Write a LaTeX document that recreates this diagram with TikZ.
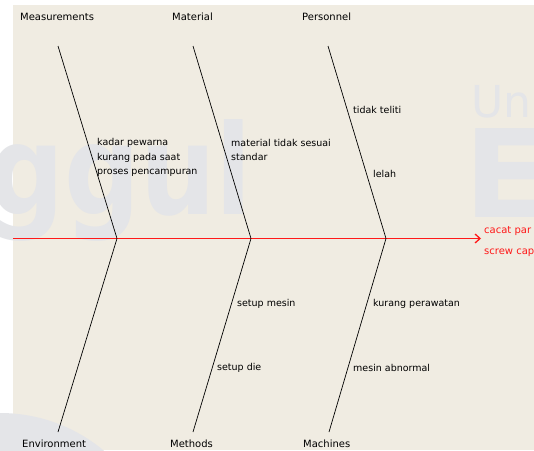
\documentclass[tikz,border=0pt]{standalone}
\usepackage{fontspec}
\setmainfont{DejaVu Sans}
\usepackage{tikz}
\usetikzlibrary{arrows.meta}
\definecolor{latar}{RGB}{240,236,226}
\definecolor{bayang}{RGB}{228,229,232}
\definecolor{merah}{RGB}{255,25,25}
\tikzstyle{kategori} = [inner sep=0pt, anchor=west, font=\fontsize{10}{12}\selectfont]
\tikzstyle{sebab} = [inner sep=0pt, anchor=west, align=left, font=\fontsize{9.5}{14.5}\selectfont]
\tikzstyle{akibat} = [inner sep=0pt, anchor=west, align=left, text=merah, font=\fontsize{10}{21}\selectfont]
\tikzstyle{tulang} = [line width=0.7pt, black]
\tikzstyle{spina} = [line width=1.3pt, merah, -{Straight Barb[length=5pt,width=9pt]}]
\tikzstyle{tanda} = [inner sep=0pt, anchor=base west, text=bayang, font=\bfseries]

\begin{document}
\begin{tikzpicture}[x=1pt,y=-1pt]
							\useasboundingbox (0,0) rectangle (534,450);
							\clip (0,0) rectangle (534,450);
							\fill[latar] (13,5) rectangle (534,450);
							% watermark
							\fill[bayang] (0,575) circle (162pt);
							\node[tanda, xscale=0.85, font=\fontsize{125}{125}\bfseries] (wm1) at (-12,214) {ggul};
							\node[tanda, font=\fontsize{44}{44}\selectfont] (wm2) at (471,117) {Un};
							\node[tanda, font=\fontsize{122}{122}\bfseries] (wm3) at (464,217) {E};
							% spine
							\coordinate (ekor) at (13,238.5);
							\coordinate (kepala) at (481,238.5);
							\coordinate (j1) at (117,238.5);
							\coordinate (j2) at (251,238.5);
							\coordinate (j3) at (386,238.5);
							\draw[spina] (ekor) -- (kepala);
							\node[akibat] (akb) at (484,242) {cacat par\\screw cap};
							% top bones
							\node[kategori] (meas) at (20,17) {Measurements};
							\node[kategori] (mat) at (172,17) {Material};
							\node[kategori] (pers) at (302,17) {Personnel};
							\coordinate (t1) at (58,46);
							\coordinate (t2) at (193,46);
							\coordinate (t3) at (328,46);
							\draw[tulang] (t1) -- (j1);
							\draw[tulang] (t2) -- (j2);
							\draw[tulang] (t3) -- (j3);
							% bottom bones
							\node[kategori] (env) at (22,444) {Environment};
							\node[kategori] (meth) at (170,444) {Methods};
							\node[kategori] (mach) at (303,444) {Machines};
							\coordinate (b1) at (58,432);
							\coordinate (b2) at (193,432);
							\coordinate (b3) at (329,432);
							\draw[tulang] (j1) -- (b1);
							\draw[tulang] (j2) -- (b2);
							\draw[tulang] (j3) -- (b3);
							% causes
							\node[sebab] (s1) at (97,157.5) {kadar pewarna\\kurang pada saat\\proses pencampuran};
							\node[sebab] (s2) at (231,150) {material tidak sesuai\\standar};
							\node[sebab] (s3) at (353,110) {tidak teliti};
							\node[sebab] (s4) at (373,174) {lelah};
							\node[sebab] (s5) at (237,304) {setup mesin};
							\node[sebab] (s6) at (217,368) {setup die};
							\node[sebab] (s7) at (373,304) {kurang perawatan};
							\node[sebab] (s8) at (353,368) {mesin abnormal};
						\end{tikzpicture}
\end{document}
